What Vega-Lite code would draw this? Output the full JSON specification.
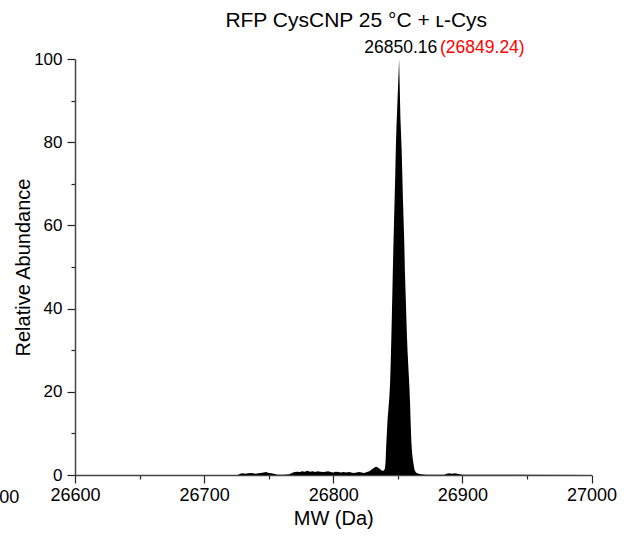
{
  "$schema": "https://vega.github.io/schema/vega-lite/v6.json",
  "width": 516.5,
  "height": 416,
  "autosize": {"type": "none"},
  "padding": {"left": 75, "top": 59, "right": 37.5, "bottom": 63},
  "background": "white",
  "config": {
    "view": {"stroke": null},
    "font": "Liberation Sans",
    "axis": {
      "labelFont": "Liberation Sans",
      "titleFont": "Liberation Sans",
      "labelColor": "black",
      "titleColor": "black",
      "titleFontWeight": "normal",
      "titleFontSize": 20,
      "domainColor": "#444444",
      "domainWidth": 1.5,
      "tickColor": "#222222",
      "tickWidth": 1.2,
      "grid": false
    }
  },
  "title": {
    "text": "RFP CysCNP 25 °C + ʟ-Cys",
    "font": "Liberation Sans",
    "fontSize": 21,
    "fontWeight": "normal",
    "color": "black",
    "anchor": "middle",
    "dx": 23,
    "offset": 8
  },
  "layer": [
    {
      "data": {
        "values": [
          {"mw": 26600, "abundance": 0},
          {"mw": 26726, "abundance": 0},
          {"mw": 26728, "abundance": 0.3},
          {"mw": 26730, "abundance": 0.4},
          {"mw": 26732, "abundance": 0.3},
          {"mw": 26734, "abundance": 0.4},
          {"mw": 26736, "abundance": 0.5},
          {"mw": 26738, "abundance": 0.4},
          {"mw": 26740, "abundance": 0.3},
          {"mw": 26742, "abundance": 0.4},
          {"mw": 26744, "abundance": 0.5},
          {"mw": 26746, "abundance": 0.6},
          {"mw": 26748, "abundance": 0.7},
          {"mw": 26750, "abundance": 0.5},
          {"mw": 26752, "abundance": 0.4},
          {"mw": 26754, "abundance": 0.3},
          {"mw": 26756, "abundance": 0.1},
          {"mw": 26758, "abundance": 0.05},
          {"mw": 26760, "abundance": 0.05},
          {"mw": 26762, "abundance": 0.05},
          {"mw": 26764, "abundance": 0.1},
          {"mw": 26766, "abundance": 0.2},
          {"mw": 26768, "abundance": 0.5},
          {"mw": 26770, "abundance": 0.7},
          {"mw": 26772, "abundance": 0.8},
          {"mw": 26774, "abundance": 0.7},
          {"mw": 26776, "abundance": 0.9},
          {"mw": 26778, "abundance": 0.8},
          {"mw": 26780, "abundance": 1.0},
          {"mw": 26782, "abundance": 0.8},
          {"mw": 26784, "abundance": 0.9},
          {"mw": 26786, "abundance": 0.7},
          {"mw": 26788, "abundance": 0.9},
          {"mw": 26790, "abundance": 0.8},
          {"mw": 26792, "abundance": 0.7},
          {"mw": 26794, "abundance": 0.8},
          {"mw": 26796, "abundance": 0.9},
          {"mw": 26798, "abundance": 0.7},
          {"mw": 26800, "abundance": 0.6},
          {"mw": 26802, "abundance": 0.8},
          {"mw": 26804, "abundance": 0.7},
          {"mw": 26806, "abundance": 0.6},
          {"mw": 26808, "abundance": 0.7},
          {"mw": 26810, "abundance": 0.6},
          {"mw": 26812, "abundance": 0.7},
          {"mw": 26814, "abundance": 0.6},
          {"mw": 26816, "abundance": 0.5},
          {"mw": 26818, "abundance": 0.6},
          {"mw": 26820, "abundance": 0.7},
          {"mw": 26822, "abundance": 0.6},
          {"mw": 26824, "abundance": 0.5},
          {"mw": 26826, "abundance": 0.7},
          {"mw": 26828, "abundance": 0.9},
          {"mw": 26830, "abundance": 1.4},
          {"mw": 26832, "abundance": 1.8},
          {"mw": 26833, "abundance": 2.0},
          {"mw": 26834, "abundance": 1.9},
          {"mw": 26835, "abundance": 1.7},
          {"mw": 26836, "abundance": 1.5},
          {"mw": 26837, "abundance": 1.2},
          {"mw": 26838, "abundance": 1.0},
          {"mw": 26839, "abundance": 1.0},
          {"mw": 26840, "abundance": 1.5},
          {"mw": 26840.5, "abundance": 3},
          {"mw": 26841, "abundance": 7},
          {"mw": 26841.5, "abundance": 10},
          {"mw": 26842, "abundance": 13},
          {"mw": 26842.5, "abundance": 15},
          {"mw": 26843, "abundance": 17},
          {"mw": 26843.5, "abundance": 19},
          {"mw": 26844, "abundance": 22},
          {"mw": 26844.5, "abundance": 27},
          {"mw": 26845, "abundance": 33},
          {"mw": 26845.5, "abundance": 40},
          {"mw": 26846, "abundance": 47},
          {"mw": 26846.5, "abundance": 54},
          {"mw": 26847, "abundance": 60},
          {"mw": 26847.5, "abundance": 66},
          {"mw": 26848, "abundance": 72},
          {"mw": 26848.5, "abundance": 79},
          {"mw": 26849, "abundance": 84},
          {"mw": 26849.5, "abundance": 88},
          {"mw": 26850, "abundance": 92},
          {"mw": 26850.5, "abundance": 96},
          {"mw": 26851, "abundance": 100},
          {"mw": 26851.5, "abundance": 93},
          {"mw": 26852, "abundance": 86},
          {"mw": 26852.5, "abundance": 82},
          {"mw": 26853, "abundance": 78},
          {"mw": 26853.5, "abundance": 72},
          {"mw": 26854, "abundance": 66},
          {"mw": 26854.5, "abundance": 61},
          {"mw": 26855, "abundance": 56},
          {"mw": 26855.5, "abundance": 49},
          {"mw": 26856, "abundance": 44},
          {"mw": 26856.5, "abundance": 39},
          {"mw": 26857, "abundance": 34},
          {"mw": 26857.5, "abundance": 30},
          {"mw": 26858, "abundance": 27},
          {"mw": 26858.5, "abundance": 24},
          {"mw": 26859, "abundance": 21},
          {"mw": 26859.5, "abundance": 17},
          {"mw": 26860, "abundance": 12},
          {"mw": 26860.5, "abundance": 8},
          {"mw": 26861, "abundance": 5.5},
          {"mw": 26861.5, "abundance": 4},
          {"mw": 26862, "abundance": 3},
          {"mw": 26862.5, "abundance": 2},
          {"mw": 26863, "abundance": 1.2},
          {"mw": 26864, "abundance": 0.6},
          {"mw": 26866, "abundance": 0.3},
          {"mw": 26868, "abundance": 0.2},
          {"mw": 26870, "abundance": 0.1},
          {"mw": 26872, "abundance": 0.05},
          {"mw": 26886, "abundance": 0.05},
          {"mw": 26888, "abundance": 0.3},
          {"mw": 26890, "abundance": 0.4},
          {"mw": 26892, "abundance": 0.3},
          {"mw": 26894, "abundance": 0.4},
          {"mw": 26896, "abundance": 0.3},
          {"mw": 26898, "abundance": 0.2},
          {"mw": 26900, "abundance": 0.05},
          {"mw": 27000, "abundance": 0}
        ]
      },
      "mark": {"type": "area", "color": "black", "interpolate": "linear", "clip": true},
      "encoding": {
        "x": {
          "field": "mw",
          "type": "quantitative",
          "title": "MW (Da)",
          "scale": {"domain": [26600, 27000], "nice": false, "zero": false},
          "axis": {
            "values": [26600, 26650, 26700, 26750, 26800, 26850, 26900, 26950, 27000],
            "labelExpr": "datum.value % 100 === 0 ? format(datum.value, 'd') : ''",
            "labelFontSize": 18,
            "labelPadding": 3,
            "labelFlush": false,
            "labelOverlap": false,
            "tickSize": {"condition": {"test": "datum.value % 100 === 0", "value": 8}, "value": 4},
            "titlePadding": 4
          }
        },
        "y": {
          "field": "abundance",
          "type": "quantitative",
          "title": "Relative Abundance",
          "scale": {"domain": [0, 100], "nice": false},
          "axis": {
            "values": [0, 10, 20, 30, 40, 50, 60, 70, 80, 90, 100],
            "labelExpr": "datum.value % 20 === 0 ? format(datum.value, 'd') : ''",
            "labelFontSize": 17,
            "labelPadding": 5,
            "labelFlush": false,
            "labelOverlap": false,
            "tickSize": {"condition": {"test": "datum.value % 20 === 0", "value": 8}, "value": 4},
            "titlePadding": 0
          }
        }
      }
    },
    {
      "data": {"values": [{"label": "26850.16"}]},
      "mark": {"type": "text", "align": "left", "baseline": "alphabetic", "fontSize": 17.5, "color": "black", "font": "Liberation Sans"},
      "encoding": {
        "x": {"datum": 26824},
        "y": {"datum": 101.4},
        "text": {"field": "label"}
      }
    },
    {
      "data": {"values": [{"label": "(26849.24)"}]},
      "mark": {"type": "text", "align": "left", "baseline": "alphabetic", "fontSize": 17.5, "color": "#ff0000", "font": "Liberation Sans"},
      "encoding": {
        "x": {"datum": 26882.7},
        "y": {"datum": 101.4},
        "text": {"field": "label"}
      }
    },
    {
      "data": {"values": [{"label": "00"}]},
      "mark": {"type": "text", "align": "center", "baseline": "alphabetic", "fontSize": 18, "color": "black", "font": "Liberation Sans"},
      "encoding": {
        "x": {"datum": 26549},
        "y": {"datum": -6.8},
        "text": {"field": "label"}
      }
    }
  ]
}
